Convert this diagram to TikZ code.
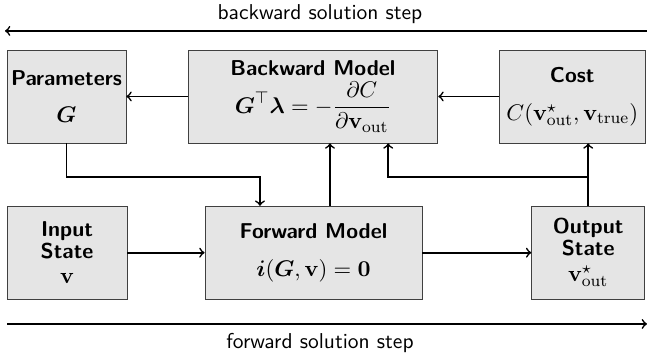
\documentclass[tikz,border=0pt]{standalone}
\usepackage{amsmath}
\usepackage{bm}
\newcommand{\eqsize}{\fontsize{11.2}{13.5}\selectfont}
\begin{document}
\begin{tikzpicture}[
    block/.style={draw=black!75, fill=gray!20, align=center, minimum height=1.58cm,
        inner sep=2pt, font=\sffamily\fontsize{10.4}{12.5}\selectfont},
    flow/.style={thick, ->}
  ]
  \useasboundingbox (0,0) rectangle (11,6.086);

  % blocks of the backward pass
  \node[block, minimum width=2.02cm] (par) at (1.13,4.446)
    {\textbf{Parameters}\\[5pt] {\eqsize$\bm{G}$}};
  \node[block, minimum width=4.25cm] (back) at (5.32,4.446)
    {\textbf{Backward Model}\\[2pt]
     {\eqsize$\displaystyle \bm{G}^{\top}\bm{\lambda} = -\frac{\partial C}{\partial \mathbf{v}_{\mathrm{out}}}$}};
  \node[block, minimum width=2.47cm] (cost) at (9.73,4.446)
    {\textbf{Cost}\\[6pt] {\eqsize$C(\mathbf{v}^{\star}_{\mathrm{out}},\mathbf{v}_{\mathrm{true}})$}};

  % blocks of the forward pass
  \node[block, minimum width=2.04cm] (in) at (1.14,1.79)
    {\textbf{Input}\\[-2pt] \textbf{State}\\[0pt] {\eqsize$\mathbf{v}$}};
  \node[block, minimum width=3.69cm] (fwd) at (5.33,1.79)
    {\textbf{Forward Model}\\[6pt] {\eqsize$\bm{i}(\bm{G},\mathbf{v}) = \bm{0}$}};
  \node[block, minimum width=1.92cm] (out) at (10.00,1.79)
    {\textbf{Output}\\[-2pt] \textbf{State}\\[0pt] {\eqsize$\mathbf{v}^{\star}_{\mathrm{out}}$}};

  % solution steps
  \coordinate (bl) at (0.085,5.56);
  \coordinate (br) at (11,5.56);
  \draw[flow] (br) -- (bl);
  \node[font=\sffamily\fontsize{10.4}{12.5}\selectfont] (blab) at (5.44,5.85) {backward solution step};
  \coordinate (fl) at (0.12,0.578);
  \coordinate (fr) at (11,0.578);
  \draw[flow] (fl) -- (fr);
  \node[font=\sffamily\fontsize{10.4}{12.5}\selectfont] (flab) at (5.44,0.255) {forward solution step};

  % connectors
  \draw[flow] (back) -- (par);
  \draw[flow] (cost) -- (back);
  \draw[flow] (in) -- (fwd);
  \draw[flow] (fwd) -- (out);

  \coordinate (bend) at (4.42,3.08);
  \draw[flow] (par.south) |- (bend) -- (bend |- fwd.north);

  \coordinate (up) at (5.61,0 |- fwd.north);
  \draw[flow] (up) -- (up |- back.south);

  \draw[flow] (out.north) -- (out.north |- cost.south);
  \coordinate (split) at (out.north |- bend);
  \coordinate (join) at (6.60,3.08);
  \draw[flow] (split) -- (join) -- (join |- back.south);
\end{tikzpicture}
\end{document}
